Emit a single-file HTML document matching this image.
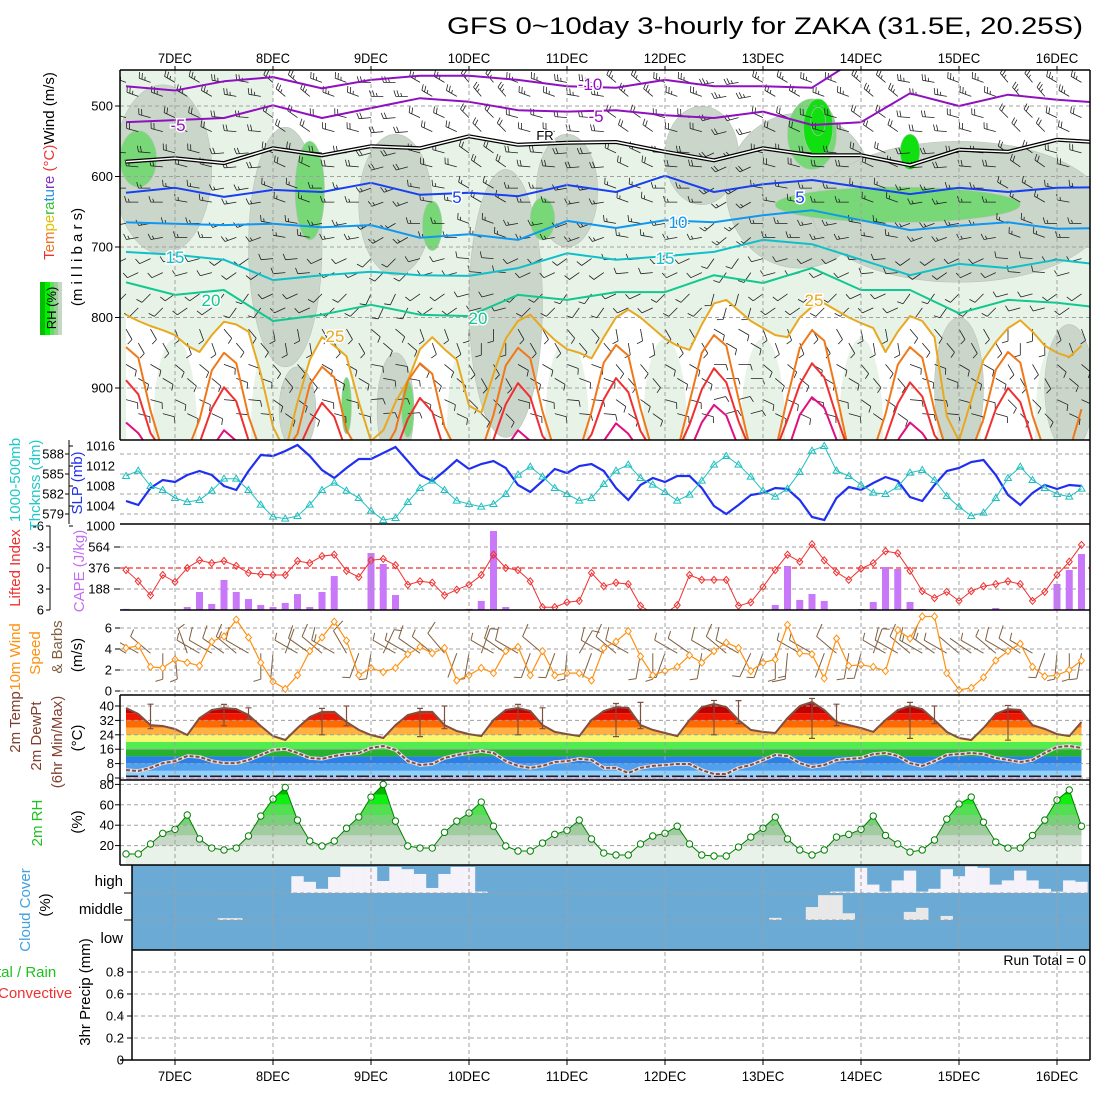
<!DOCTYPE html>
<html><head><meta charset="utf-8"><title>GFS meteogram ZAKA</title>
<style>
html,body{margin:0;padding:0;background:#fff;}
svg{display:block;font-family:"Liberation Sans",sans-serif;}
</style></head>
<body>
<svg id="chart" xmlns="http://www.w3.org/2000/svg" width="1100" height="1100" viewBox="0 0 1100 1100">
<text x="447" y="34" font-size="24" textLength="636" lengthAdjust="spacingAndGlyphs" fill="#000">GFS 0~10day 3-hourly for ZAKA (31.5E, 20.25S)</text>
<g id="layer"></g>
<g font-size="14">
<g>
<rect x="40" y="282" width="5" height="53" fill="#00c000"/><rect x="45" y="282" width="5" height="53" fill="#00f000"/><rect x="50" y="282" width="4" height="53" fill="#60e060"/><rect x="54" y="282" width="4" height="53" fill="#98d098"/><rect x="58" y="282" width="4" height="53" fill="#c4d8c4"/>
<text transform="translate(56,308) rotate(-90)" text-anchor="middle" font-size="13" fill="#000">RH (%)</text>
</g>
<text transform="translate(54,166) rotate(-90)" text-anchor="middle" font-size="15"><tspan fill="#f03030">T</tspan><tspan fill="#f07020">em</tspan><tspan fill="#e0c000">pe</tspan><tspan fill="#30c030">ra</tspan><tspan fill="#2090e0">tu</tspan><tspan fill="#8030c0">re</tspan><tspan fill="#f03030"> (°C)</tspan><tspan fill="#000">Wind (m/s)</tspan></text>
<text transform="translate(82,257) rotate(-90)" text-anchor="middle" font-size="15" fill="#000">(m i l l i b a r s)</text>
<text transform="translate(20,480) rotate(-90)" text-anchor="middle" font-size="15" fill="#20c8c8">1000-500mb</text>
<text transform="translate(40,485) rotate(-90)" text-anchor="middle" font-size="15" fill="#20c8c8">Thcknss (dm)</text>
<text transform="translate(82,483) rotate(-90)" text-anchor="middle" font-size="15" fill="#2030f0">SLP (mb)</text>
<text transform="translate(20,568) rotate(-90)" text-anchor="middle" font-size="15" fill="#f03030">Lifted Index</text>
<text transform="translate(84,571) rotate(-90)" text-anchor="middle" font-size="15" fill="#c070f0">CAPE (J/kg)</text>
<text transform="translate(20,657) rotate(-90)" text-anchor="middle" font-size="15" fill="#ff9010">10m Wind</text>
<text transform="translate(40,653) rotate(-90)" text-anchor="middle" font-size="15" fill="#ff9010">Speed</text>
<text transform="translate(62,647) rotate(-90)" text-anchor="middle" font-size="15" fill="#806040">&amp; Barbs</text>
<text transform="translate(82,655) rotate(-90)" text-anchor="middle" font-size="15" fill="#000">(m/s)</text>
<text transform="translate(20,722) rotate(-90)" text-anchor="middle" font-size="15" fill="#804030">2m Temp</text>
<text transform="translate(41,736) rotate(-90)" text-anchor="middle" font-size="15" fill="#804030">2m DewPt</text>
<text transform="translate(62,742) rotate(-90)" text-anchor="middle" font-size="15" fill="#804030">(6hr Min/Max)</text>
<text transform="translate(82,738) rotate(-90)" text-anchor="middle" font-size="15" fill="#000">(°C)</text>
<text transform="translate(42,823) rotate(-90)" text-anchor="middle" font-size="15" fill="#20c020">2m RH</text>
<text transform="translate(82,822) rotate(-90)" text-anchor="middle" font-size="15" fill="#000">(%)</text>
<text transform="translate(30,910) rotate(-90)" text-anchor="middle" font-size="15" fill="#40a0e0">Cloud Cover</text>
<text transform="translate(50,905) rotate(-90)" text-anchor="middle" font-size="15" fill="#000">(%)</text>
<text x="123" y="886" text-anchor="end" font-size="15" fill="#000">high</text>
<text x="123" y="914" text-anchor="end" font-size="15" fill="#000">middle</text>
<text x="123" y="943" text-anchor="end" font-size="15" fill="#000">low</text>
<text x="-3" y="977" font-size="15" fill="#20c020">tal / Rain</text>
<text x="-2" y="998" font-size="15" fill="#f03030">Convective</text>
<text transform="translate(90,992) rotate(-90)" text-anchor="middle" font-size="15" fill="#000">3hr Precip (mm)</text>
<text x="1086" y="965" text-anchor="end" font-size="14" fill="#000">Run Total = 0</text>
</g>
</svg>
<script>
// ---------- data ----------
const dateLabels=['7DEC','8DEC','9DEC','10DEC','11DEC','12DEC','13DEC','14DEC','15DEC','16DEC'];
const pressureTicks=[500,600,700,800,900];
const slpTicks=[1000,1004,1008,1012,1016];
const thickTicks=[579,582,585,588];
const liTicks=[-6,-3,0,3,6];
const capeTicks=[188,376,564];
const windTicks=[0,2,4,6];
const tempTicks=[0,8,16,24,32,40];
const rhTicks=[20,40,60,80];
const precipTicks=[0,0.2,0.4,0.6,0.8];
// 12-hourly isotherm pressures (mb)
const isoM10=[472,478,465,459,475,463,457,457,463,472,474,463,472,472,474,430,430,430,430,430,430];
const isoM5=[523,520,517,499,517,503,489,494,506,508,506,513,517,508,527,523,482,500,484,491,496];
const isoFR=[579,574,581,560,570,557,560,543,555,552,551,565,577,560,570,570,584,562,565,548,552];
const isoP5=[623,616,629,619,622,609,626,623,628,612,622,599,622,611,605,615,625,616,622,616,615];
const isoP10=[665,667,669,667,672,669,687,682,690,663,673,662,665,655,648,662,676,670,665,674,673];
const isoP15=[707,711,718,747,740,735,740,741,730,709,718,713,707,690,696,718,740,724,730,718,726];
const isoP20=[750,768,761,805,796,782,796,798,768,775,764,764,740,751,730,761,761,794,775,779,787];
// 3-hourly isotherm pressures (mb)
const isoP25=[796,805,812,818,825,840,849,825,806,810,820,880,955,990,920,860,828,840,855,920,975,960,920,890,845,828,845,860,925,935,880,830,805,796,815,832,845,850,858,828,800,789,800,815,830,840,846,810,780,775,790,805,815,825,828,800,785,780,790,800,808,815,849,820,798,805,828,940,975,917,860,835,815,804,820,840,850,856,840];
const isoP30=[842,857,932,990,990,990,945,875,850,865,940,990,990,990,965,895,870,885,960,990,990,990,960,890,865,880,955,990,990,990,938,868,843,858,933,990,990,990,934,864,839,854,929,990,990,990,920,850,825,840,915,990,990,990,913,843,818,833,908,990,990,990,937,867,842,857,932,990,990,990,944,874,849,864,939,990,990,990,930];
const isoP35=[889,909,964,990,990,990,978,929,899,919,974,990,990,990,990,951,921,941,990,990,990,990,990,944,914,934,989,990,990,990,973,923,893,913,968,990,990,990,966,916,886,906,961,990,990,990,952,902,872,892,947,990,990,990,945,895,865,885,940,990,990,990,972,922,892,912,967,990,990,990,980,930,900,920,975,990,990,990,990];
const isoP40=[949,964,990,990,990,990,990,985,960,975,990,990,990,990,990,990,990,990,990,990,990,990,990,990,990,990,990,990,990,990,990,985,960,975,990,990,990,990,990,975,950,965,990,990,990,990,990,949,924,939,984,990,990,990,990,938,913,928,973,990,990,990,990,974,949,964,990,990,990,990,990,990,990,990,990,990,990,990,990];
// RH shading blobs (time index, pressure, half-width idx, half-height mb)
const greyBlobI=[3,13,22,31,36,47,55,68,14,22,68,77];
const greyBlobP=[590,700,640,780,620,570,620,650,930,930,900,900];
const greyBlobW=[4,3,3,3,2.5,3,6,12,1.5,1.5,2,2];
const greyBlobH=[120,170,100,190,80,70,110,100,60,80,100,90];
const greenBlobI=[1,15,25,34,63,56,18,23];
const greenBlobP=[575,620,670,660,640,540,925,930];
const greenBlobW=[1.5,1.2,0.8,1,10,2,0.4,0.5];
const greenBlobH=[40,70,35,30,25,50,40,40];
const brightBlobI=[56.5,64,56.5];
const brightBlobP=[530,565,522];
const brightBlobW=[1.2,0.8,0.6];
const brightBlobH=[40,25,20];
const nightCols=[4,12,20,28,36,44,52,60,68,76];
// upper-air barbs
const barbLevels=[475,525,575,625,675,725,775,825,875,925];
const barbLevelDir=[290,285,275,270,260,245,225,150,120,105];
const barbLevelSpd=[25,20,20,15,15,10,10,10,10,10];
const barbTimeShift=[0,10,-10,20,0,-20,10,30,0,-10,20,0,-30,10,0,20,-10,0,30,10,0];
// surface series (3-hourly, 79 values)
const slp=[1005.0,1004.2,1007.6,1009.2,1008.8,1010.2,1011.0,1010.2,1008.0,1007.2,1011.0,1014.2,1014.0,1015.0,1016.2,1014.0,1011.2,1009.6,1011.6,1013.4,1013.4,1014.6,1015.8,1013.0,1010.2,1009.0,1011.0,1013.2,1011.4,1012.4,1013.0,1011.6,1008.2,1006.8,1009.0,1011.4,1010.6,1012.0,1012.4,1011.0,1007.6,1005.2,1008.2,1009.6,1008.8,1010.0,1010.0,1007.6,1004.0,1002.4,1004.2,1006.2,1006.6,1007.6,1007.4,1005.2,1001.8,1001.2,1005.6,1007.8,1007.2,1008.6,1009.8,1009.0,1005.8,1005.0,1008.2,1011.0,1011.6,1012.8,1013.2,1010.2,1006.2,1004.2,1006.6,1008.2,1007.4,1008.2,1008.0];
const thick=[584.7,585.5,583.2,582.6,581.4,580.8,581.1,582.5,584.3,584.3,582.6,580.4,578.6,578.3,578.7,580.4,582.6,583.7,582.5,581.4,579.5,578.1,578.4,580.8,582.9,584.0,582.6,581.0,580.5,580.1,580.5,582.0,584.9,586.1,584.6,582.9,582.0,581.0,581.4,583.5,585.5,586.4,584.4,583.4,582.3,581.0,581.9,584.0,586.4,587.7,586.4,584.6,582.5,581.6,582.8,585.3,588.5,589.2,585.5,584.7,583.4,582.2,582.0,583.1,585.2,585.6,584.1,581.7,580.1,578.7,579.2,581.4,584.4,586.1,584.1,582.9,582.0,581.6,582.8];
const liftedIndex=[0.3,1.9,3.9,1.0,2.0,0,-1.1,-0.7,-1.0,-0.3,0.7,0.9,1.0,1.0,-1.0,-0.7,-1.7,-1.9,0.4,1.3,-1.1,-1.3,-0.4,2.4,1.9,2.1,3.9,3.1,2.4,1.0,-1.9,0,0.3,1.9,5.6,5.6,4.9,4.7,0.7,2.6,2.1,2.3,5.4,6.5,6.5,5.3,1.0,1.7,1.7,1.7,5.4,4.9,2.7,0.3,-1.9,-0.9,-3.4,-1.1,0.6,1.7,0.1,-0.7,-2.4,-2.1,0.4,3.3,4.3,3.4,4.7,3.3,2.6,2.3,1.9,2.3,4.7,3.4,1.0,-0.9,-3.3];
const cape=[10,0,0,0,0,27,161,54,269,161,98,45,27,63,143,27,161,304,0,0,510,412,134,0,0,0,0,0,10,81,707,27,0,0,0,0,0,0,0,0,0,0,0,0,0,0,0,0,0,0,0,0,0,45,394,90,143,81,0,0,9,72,385,367,72,9,0,0,0,0,0,18,0,0,0,0,233,358,501];
const windSpeed=[4.1,4.3,2.3,2.2,3.0,2.7,2.4,4.7,5.2,6.8,5.1,2.7,0.9,0.2,1.5,3.8,5.1,6.6,4.8,1.5,2.2,1.8,2.2,3.5,4.2,3.6,4.1,1.0,1.5,2.2,1.7,3.8,4.2,1.5,3.8,1.5,1.7,1.7,1.0,4.1,4.7,5.7,3.3,1.5,1.9,2.3,3.4,2.7,3.8,4.6,4.1,1.9,2.7,3.0,6.3,3.6,3.5,1.2,5.0,2.4,2.5,2.3,1.9,5.8,5.0,7.1,7.1,1.7,0.1,0.3,1.3,2.9,3.8,4.5,2.3,1.4,1.5,2.0,2.9];
const windDir10=[300,300,310,180,175,340,300,300,305,310,300,180,185,20,300,305,310,300,330,200,190,25,300,300,305,310,320,200,190,20,300,305,300,200,310,200,185,30,200,300,310,300,190,180,200,300,305,190,300,310,300,205,200,180,185,300,300,200,310,190,195,20,300,300,310,300,305,300,310,305,300,310,300,305,300,200,185,180,190];
const temp2m=[38.9,35.6,29.4,28.9,27.2,23.9,33.3,37.8,38.9,38.3,35.0,28.9,23.3,21.1,27.8,33.9,36.7,36.7,31.1,26.7,23.9,22.2,29.4,35.0,36.7,36.7,29.4,26.1,24.4,23.3,32.2,37.8,38.9,37.2,29.4,25.6,24.4,23.3,32.2,37.2,39.4,38.9,29.4,26.7,25.0,23.3,32.2,39.4,41.1,39.4,32.2,26.7,25.6,25.0,33.3,40.0,42.2,37.8,31.1,29.4,27.8,25.6,32.2,37.8,40.0,38.3,32.2,25.6,22.2,21.1,27.8,35.6,38.3,37.8,29.4,27.2,24.4,23.3,31.1];
const dew2m=[4.4,3.9,5.6,8.3,9.4,12.2,11.7,9.4,8.3,8.3,10,12.8,15.6,16.1,13.9,11.1,10.6,12.2,13.3,13.9,16.7,17.8,15.6,9.4,7.2,7.8,11.1,12.8,13.9,15.0,13.9,9.4,6.7,5.6,6.7,8.9,9.4,10.6,10,5.6,5.6,2.8,5.6,6.7,7.2,7.8,7.8,4.4,2.2,2.2,5.6,7.2,10,12.8,12.2,8.3,6.1,7.2,10,10.6,11.1,13.3,13.9,12.2,8.3,6.7,9.4,12.8,13.3,13.9,13.3,11.1,10,8.9,10,13.9,17.2,17.8,16.7];
const tMaxBar=[41,39,40,40,39,42,43,41,40];
const tMinBar=[29,24,23,24,23,24,22,22,21];
const tBarIdx=[2,10,18,26,34,42,50,58,66];
const rh2m=[11.8,11.8,21.6,32,36,50,26.5,17.6,15.7,17.6,29.4,49,65.7,77,45,24.5,19.6,24.5,37,48,67.6,80,44,19.6,17.6,17.6,33,44,52,62.7,39,19.6,14.7,14.7,22.5,31,35,45,26.5,12.7,10.8,10.8,21.6,29.4,32,39,21.6,10.8,9.8,9.8,18.6,28.4,37,48,26.5,15.7,10.8,15.7,28.4,31,36,49,30,21.6,13.7,15.7,25.5,46,60.8,67.6,43,23.5,17.6,17.6,30,45,64.7,74.5,39];
const highCloudGap=[0,0,0,0,0,0,0,0,0,0,0,0,0,0,0.6,0.4,0.15,0.57,0.93,0.93,0.93,0.43,0.93,0.85,0.68,0.18,0.68,0.93,0.93,0.05,0,0,0,0,0,0,0,0,0,0,0,0,0,0,0,0,0,0,0,0,0,0,0,0,0,0,0,0,0.05,0.05,0.9,0.3,0.05,0.45,0.8,0.05,0.15,0.85,0.6,0.95,0.9,0.3,0.45,0.8,0.45,0.15,0.05,0.45,0.4];
const midCloudGap=[0,0,0,0,0,0,0,0,0.07,0.07,0,0,0,0,0,0,0,0,0,0,0,0,0,0,0,0,0,0,0,0,0,0,0,0,0,0,0,0,0,0,0,0,0,0,0,0,0,0,0,0,0,0,0,0.08,0,0,0.48,0.92,0.92,0.25,0,0,0,0,0.3,0.45,0,0.15,0,0,0,0,0,0,0,0,0,0,0];
const precip=new Array(79).fill(0);

// ---------- axes ----------
const X=i=>126+12.25*i;
const Py=p=>106+(p-500)*0.705;
const SLPy=v=>446+(1016-v)*5;
const THy=v=>454+(588-v)*6.667;
const LIy=v=>568+v*7;
const CAPEy=v=>610-v*0.1117;
const WSy=v=>691-v*10.5;
const Ty=v=>778-v*1.8;
const RHy=v=>866-v*1.02;
const PRy=v=>1060-v*110;

const NS='http://www.w3.org/2000/svg';
const root=document.getElementById('layer');
function mk(tag,attrs,parent){const e=document.createElementNS(NS,tag);for(const k in attrs)e.setAttribute(k,attrs[k]);(parent||root).appendChild(e);return e;}
function pts(xs,ys){return xs.map((x,j)=>x.toFixed(1)+','+ys[j].toFixed(1)).join(' ');}
const defs=mk('defs',{});
function clip(id,x,y,w,h){const c=mk('clipPath',{id:id},defs);mk('rect',{x:x,y:y,width:w,height:h},c);}
clip('cTop',120,70,970,370);clip('cSlp',120,440,970,84);clip('cCape',120,524,970,86);
clip('cWind',120,610,970,85);clip('cTemp',120,695,970,85);clip('cRh',120,780,970,85);clip('cCloud',132,865,958,85);

// ---------- top panel ----------
const gTop=mk('g',{'clip-path':'url(#cTop)'});


const bg=mk('rect',{x:120,y:70,width:970,height:370,fill:'#e8f3e8'},gTop);


{const xs=[],ys=[];for(let k=3;k<isoFR.length;k++){xs.push(X(4*k));ys.push(Py(isoFR[k]));}
const d='M'+X(12)+',60 L'+pts(xs,ys).split(' ').join(' L')+' L'+X(80)+',60 Z';
const w=mk('path',{d:d,fill:'#ffffff'},gTop);

}
{const xs=isoP25.map((v,i)=>X(i)),ys=isoP25.map(v=>Py(v));
const d='M'+X(0)+',450 L'+pts(xs,ys).split(' ').join(' L')+' L'+X(78)+',450 Z';
const w=mk('path',{d:d,fill:'#ffffff'},gTop);

}
nightCols.forEach(i=>{const e=mk('ellipse',{cx:X(i),cy:Py(960),rx:1.8*12.25,ry:130*0.705,fill:'#e8f3e8'},gTop);

});
function blobs(I,P,W,H,col,name){I.forEach((i,j)=>{const e=mk('ellipse',{cx:X(i),cy:Py(P[j]),rx:W[j]*12.25,ry:H[j]*0.705,fill:col,stroke:'#b8c4b8','stroke-width':0.6},gTop);

});}
blobs(greyBlobI,greyBlobP,greyBlobW,greyBlobH,'#cbd6cb','rh-shade-50');
blobs(greenBlobI,greenBlobP,greenBlobW,greenBlobH,'#78d878','rh-shade-70');
blobs(brightBlobI,brightBlobP,brightBlobW,brightBlobH,'#10e010','rh-shade-90');
pressureTicks.forEach(p=>{const l=mk('line',{x1:120,x2:1090,y1:Py(p),y2:Py(p),stroke:'#a0a0a0','stroke-dasharray':'4,3'},gTop);

});
function barb(g,x,y,dir,spd,len,col,name,w){
 const r=dir*Math.PI/180,ux=Math.sin(r),uy=-Math.cos(r);
 const ex=x+ux*len,ey=y+uy*len;
 let d='M'+x.toFixed(1)+','+y.toFixed(1)+' L'+ex.toFixed(1)+','+ey.toFixed(1);
 let n=Math.round(spd/5),pos=0;
 const px=-uy,py=ux;
 while(n>0){const bx=ex-ux*pos,by=ey-uy*pos;const bl=n>=2?len*0.5:len*0.28;
  d+=' M'+bx.toFixed(1)+','+by.toFixed(1)+' L'+(bx+px*bl+ux*bl*0.3).toFixed(1)+','+(by+py*bl+uy*bl*0.3).toFixed(1);
  n-=2;pos+=3;}
 const p=mk('path',{d:d,stroke:col,'stroke-width':w||1,fill:'none'},g);
 
 }
const gBarb=mk('g',{},gTop);


for(let i=0;i<79;i++){barbLevels.forEach((p,l)=>{barb(gBarb,X(i),Py(p)+((i%2)?8:-6),barbLevelDir[l]+barbTimeShift[Math.floor(i/4)],barbLevelSpd[l],12,'#202020','upper-wind-barb',0.8);});}
function iso(arr,step,col,w,name,dbl){const xs=arr.map((v,k)=>X(k*step)),ys=arr.map(v=>Py(v));
 if(dbl){const o=mk('polyline',{points:pts(xs,ys),fill:'none',stroke:'#000','stroke-width':4},gTop);
  
  
  const n=mk('polyline',{points:pts(xs,ys),fill:'none',stroke:'#fff','stroke-width':1.5},gTop);
  
  return;}
 const l=mk('polyline',{points:pts(xs,ys),fill:'none',stroke:col,'stroke-width':w,'stroke-linejoin':'round'},gTop);
 
 }
iso(isoM10,4,'#9010c0',2,'isotherm-minus10');
iso(isoM5,4,'#9010c0',2,'isotherm-minus5');
iso(isoFR,4,'#000',2,'freezing-level',true);
iso(isoP5,4,'#1840f0',2,'isotherm-5');
iso(isoP10,4,'#1098f0',2,'isotherm-10');
iso(isoP15,4,'#10c0c8',2,'isotherm-15');
iso(isoP20,4,'#10c890',2,'isotherm-20');
iso(isoP25,1,'#e8a820',2,'isotherm-25');
iso(isoP30,1,'#f07818',2,'isotherm-30');
iso(isoP35,1,'#f03030',2,'isotherm-35');
iso(isoP40,1,'#e01080',2,'isotherm-40');
const isoLbl=[['-10',590,90,'#9010c0'],['-5',596,122,'#9010c0'],['-5',178,131,'#9010c0'],['FR',545,140,'#000'],['5',457,203,'#1840f0'],['5',800,203,'#1840f0'],['10',678,228,'#1098f0'],['15',175,263,'#10c0c8'],['15',665,264,'#10c0c8'],['20',211,306,'#10c890'],['20',478,324,'#10c890'],['25',335,342,'#e8a820'],['25',814,306,'#e8a820']];
isoLbl.forEach(a=>{const t=mk('text',{x:a[1],y:a[2],'font-size':(a[0]==='FR'?13:17),fill:a[3],'text-anchor':'middle',stroke:'#fff','stroke-width':3,'paint-order':'stroke'},gTop);t.textContent=a[0];

});

// ---------- SLP panel ----------
const gS=mk('g',{'clip-path':'url(#cSlp)'});


thickTicks.forEach(v=>{const l=mk('line',{x1:120,x2:1090,y1:THy(v),y2:THy(v),stroke:'#a0a0a0','stroke-dasharray':'4,3'},gS);

});
{const l=mk('polyline',{points:pts(slp.map((v,i)=>X(i)),slp.map(SLPy)),fill:'none',stroke:'#2030f0','stroke-width':2.2},gS);


const t=mk('polyline',{points:pts(thick.map((v,i)=>X(i)),thick.map(THy)),fill:'none',stroke:'#20c0c0','stroke-width':1},gS);


thick.forEach((v,i)=>{const x=X(i),y=THy(v);const m=mk('path',{d:`M${x-3.5},${y+2.5} L${x},${y-3.5} L${x+3.5},${y+2.5} Z`,fill:'none',stroke:'#20c0c0','stroke-width':1},gS);

});}

// ---------- CAPE / LI panel ----------
const gC=mk('g',{'clip-path':'url(#cCape)'});


[-3,3].forEach(v=>{const l=mk('line',{x1:120,x2:1090,y1:LIy(v),y2:LIy(v),stroke:'#a0a0a0','stroke-dasharray':'4,3'},gC);

});
{const l=mk('line',{x1:120,x2:1090,y1:LIy(0),y2:LIy(0),stroke:'#f03030','stroke-dasharray':'5,3','stroke-width':1.2},gC);

}
cape.forEach((v,i)=>{if(v<=0)return;const b=mk('rect',{x:X(i)-3.5,y:CAPEy(v),width:7,height:610-CAPEy(v),fill:'#c878f8'},gC);

});
{const l=mk('polyline',{points:pts(liftedIndex.map((v,i)=>X(i)),liftedIndex.map(LIy)),fill:'none',stroke:'#f03030','stroke-width':1},gC);


liftedIndex.forEach((v,i)=>{const x=X(i),y=LIy(v);const m=mk('path',{d:`M${x},${y-3.5} L${x+3},${y} L${x},${y+3.5} L${x-3},${y} Z`,fill:'none',stroke:'#f03030','stroke-width':1},gC);

});}

// ---------- 10m wind panel ----------
const gW=mk('g',{'clip-path':'url(#cWind)'});


windTicks.forEach(v=>{const l=mk('line',{x1:120,x2:1090,y1:WSy(v),y2:WSy(v),stroke:'#a0a0a0','stroke-dasharray':'4,3'},gW);

});
windSpeed.forEach((v,i)=>{barb(gW,X(i),WSy(3.6),windDir10[i],v*2,26,'#806040','surface-wind-barb',1);});
{const l=mk('polyline',{points:pts(windSpeed.map((v,i)=>X(i)),windSpeed.map(WSy)),fill:'none',stroke:'#ff9010','stroke-width':1.2},gW);


windSpeed.forEach((v,i)=>{const x=X(i),y=WSy(v);const m=mk('path',{d:`M${x},${y-3.5} L${x+3},${y} L${x},${y+3.5} L${x-3},${y} Z`,fill:'#fff',stroke:'#ff9010','stroke-width':1},gW);

});}

// ---------- temperature panel ----------
const gT=mk('g',{'clip-path':'url(#cTemp)'});


{const cp=mk('clipPath',{id:'cTempArea'},defs);
mk('polygon',{points:X(0)+',779 '+pts(temp2m.map((v,i)=>X(i)),temp2m.map(Ty))+' '+X(78)+',779'},cp);
const bands=[[0,4,'#90d0fa'],[4,8,'#50a0f0'],[8,12,'#2880e8'],[12,16,'#28b030'],[16,20,'#50ec50'],[20,24,'#f8f870'],[24,28,'#ffb040'],[28,32,'#ff6a00'],[32,36,'#ee1800'],[36,50,'#c00000']];
const gb=mk('g',{'clip-path':'url(#cTempArea)'},gT);


bands.forEach(b=>{const r=mk('rect',{x:120,y:Ty(b[1]),width:970,height:Ty(b[0])-Ty(b[1]),fill:b[2]},gb);

});
const lo=mk('rect',{x:X(0),y:777,width:X(78)-X(0),height:3,fill:'#c8b8e8'},gT);


const fz=mk('line',{x1:X(0),x2:X(78),y1:Ty(1),y2:Ty(1),stroke:'#202020','stroke-width':1.5,'stroke-dasharray':'12,3,3,3'},gT);

}
tempTicks.forEach(v=>{const l=mk('line',{x1:120,x2:1090,y1:Ty(v),y2:Ty(v),stroke:'#a0a0a0','stroke-dasharray':'4,3'},gT);

});
{const d1=mk('polyline',{points:pts(dew2m.map((v,i)=>X(i)),dew2m.map(Ty)),fill:'none',stroke:'#e8e0e8','stroke-width':3.5},gT);


const d=mk('polyline',{points:pts(dew2m.map((v,i)=>X(i)),dew2m.map(Ty)),fill:'none',stroke:'#805040','stroke-width':2,'stroke-dasharray':'4,2'},gT);


const t=mk('polyline',{points:pts(temp2m.map((v,i)=>X(i)),temp2m.map(Ty)),fill:'none',stroke:'#805040','stroke-width':2},gT);


tBarIdx.forEach((i,j)=>{[[tBarIdx[j],tMaxBar[j],temp2m[i]-2],[i+6,temp2m[i+6]+2,tMinBar[j]]].forEach(q=>{const x=X(q[0]),y1=Ty(q[1]),y2=Ty(q[2]);
 const b=mk('path',{d:`M${x-3},${y1} L${x+3},${y1} M${x},${y1} L${x},${y2} M${x-3},${y2} L${x+3},${y2}`,stroke:'#805040','stroke-width':1.2,fill:'none'},gT);
 
 });});}

// ---------- RH panel ----------
const gR=mk('g',{'clip-path':'url(#cRh)'});


{const cp=mk('clipPath',{id:'cRhArea'},defs);
mk('polygon',{points:X(0)+',866 '+pts(rh2m.map((v,i)=>X(i)),rh2m.map(RHy))+' '+X(78)+',866'},cp);
const bands=[[0,20,'#e8f2e8'],[20,30,'#c8d8c8'],[30,40,'#a0cca0'],[40,50,'#78d078'],[50,60,'#50e050'],[60,70,'#10f010'],[70,100,'#00b400']];
const gb=mk('g',{'clip-path':'url(#cRhArea)'},gR);


bands.forEach(b=>{const r=mk('rect',{x:120,y:RHy(b[1]),width:970,height:RHy(b[0])-RHy(b[1]),fill:b[2]},gb);

});}
rhTicks.forEach(v=>{const l=mk('line',{x1:120,x2:1090,y1:RHy(v),y2:RHy(v),stroke:'#a0a0a0','stroke-dasharray':'4,3'},gR);

});
{const l=mk('polyline',{points:pts(rh2m.map((v,i)=>X(i)),rh2m.map(RHy)),fill:'none',stroke:'#008000','stroke-width':1},gR);


rh2m.forEach((v,i)=>{const c=mk('circle',{cx:X(i),cy:RHy(v),r:3.2,fill:'#fff',stroke:'#008000','stroke-width':1},gR);

});}

// ---------- cloud panel ----------
const gCl=mk('g',{'clip-path':'url(#cCloud)'});


{const r=mk('rect',{x:132,y:865,width:958,height:85,fill:'#6aaad4'},gCl);

}
highCloudGap.forEach((v,i)=>{if(v<=0)return;const h=v*28;const r=mk('rect',{x:X(i)-6.2,y:893-h,width:12.4,height:h,fill:'#f6f2fa'},gCl);

});
midCloudGap.forEach((v,i)=>{if(v<=0)return;const h=v*27;const r=mk('rect',{x:X(i)-6.2,y:920-h,width:12.4,height:h,fill:'#e8e8e8'},gCl);

});
[893,920].forEach(y=>{const l=mk('line',{x1:132,x2:1090,y1:y,y2:y,stroke:'#a0a0a0','stroke-dasharray':'4,3'},gCl);

});

// ---------- precip panel ----------
precipTicks.forEach(v=>{if(v===0)return;const l=mk('line',{x1:120,x2:1090,y1:PRy(v),y2:PRy(v),stroke:'#a0a0a0','stroke-dasharray':'4,3'});

});
precip.forEach((v,i)=>{if(v<=0)return;const r=mk('rect',{x:X(i)-4,y:PRy(v),width:8,height:1060-PRy(v),fill:'#20c020'});

});

// ---------- date grid & labels ----------
dateLabels.forEach((lab,k)=>{const x=X(4+8*k);
 const l=mk('line',{x1:x,x2:x,y1:70,y2:1060,stroke:'#a0a0a0','stroke-dasharray':'4,3'});
 
 
 const tt=mk('line',{x1:x,x2:x,y1:66,y2:70,stroke:'#000'});
 
 
 const bt=mk('line',{x1:x,x2:x,y1:1060,y2:1065,stroke:'#000'});
 
 
 const t1=mk('text',{x:x,y:63,'font-size':14,'text-anchor':'middle',textLength:lab.length*8.5,lengthAdjust:'spacingAndGlyphs',fill:'#000'});t1.textContent=lab;
 
 
 const t2=mk('text',{x:x,y:1081,'font-size':14,'text-anchor':'middle',textLength:lab.length*8.5,lengthAdjust:'spacingAndGlyphs',fill:'#000'});t2.textContent=lab;
 
 });

// ---------- frames ----------
function ln(x1,y1,x2,y2,name,w){const l=mk('line',{x1:x1,y1:y1,x2:x2,y2:y2,stroke:'#000','stroke-width':w||1.5});

}
[70,440,524,610,695,780,865,950,1060].forEach(y=>ln(y===950||y===865?132:120,y,1090,y,'panel-border'));
ln(120,865,132,865,'panel-border');
ln(1090,70,1090,1060,'right-border');
ln(120,70,120,440,'top-panel-left-axis');
ln(120,695,120,865,'temp-rh-left-axis');
ln(132,865,132,1060,'cloud-precip-left-axis');
ln(69,440,69,524,'slp-axis',1);
ln(50,526,50,610,'li-axis',1);

// ---------- tick labels ----------
function tick(x,y,txt,anchor,name,tx1,tx2){const t=mk('text',{x:x,y:y+4.5,'font-size':13,'text-anchor':anchor,fill:'#000'});t.textContent=txt;


if(tx1!==undefined){const l=mk('line',{x1:tx1,x2:tx2,y1:y,y2:y,stroke:'#000'});

}}
pressureTicks.forEach(p=>tick(113,Py(p),String(p),'end','pressure-tick',115,120));
slpTicks.forEach(v=>tick(86,SLPy(v),String(v),'start','slp-tick',69,73));
thickTicks.forEach(v=>tick(64,THy(v),String(v),'end','thickness-tick',65,69));
liTicks.forEach(v=>tick(44,LIy(v),String(v),'end','li-tick',46,50));
capeTicks.forEach(v=>tick(110,CAPEy(v),String(v),'end','cape-tick',114,120));
windTicks.forEach(v=>tick(112,WSy(v),String(v),'end','wind-tick',115,120));
tempTicks.forEach(v=>tick(114,Ty(v),String(v),'end','temp-tick',115,120));
rhTicks.forEach(v=>tick(114,RHy(v),String(v),'end','rh-tick',115,120));
precipTicks.forEach(v=>tick(124,PRy(v),String(v),'end','precip-tick',127,132));
[893,920].forEach(y=>{const l=mk('line',{x1:124,x2:132,y1:y,y2:y,stroke:'#000'});

});
</script>
</body></html>
